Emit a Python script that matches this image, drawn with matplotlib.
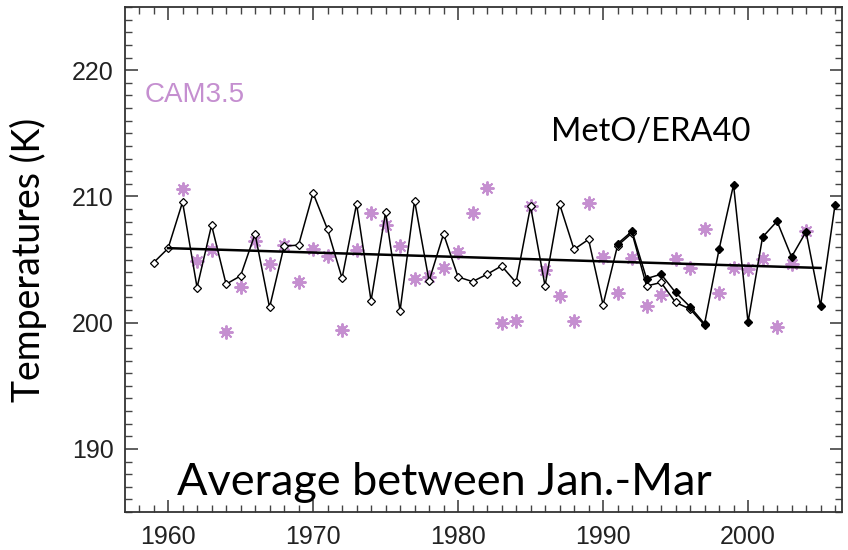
import numpy as np
import matplotlib
matplotlib.use("Agg")
import matplotlib.pyplot as plt
from matplotlib.ticker import MultipleLocator

# MetO/ERA40 reanalysis (open diamonds), 1959-1997
era_years = list(range(1959, 1998))
era_temps = [204.75, 205.88, 209.55, 202.78, 207.72, 203.05, 203.70, 207.03,
             201.20, 206.06, 206.14, 210.26, 207.38, 203.52, 209.40, 201.73,
             208.74, 200.94, 209.66, 203.30, 207.03, 203.62, 203.25, 203.83,
             204.49, 203.18, 209.21, 202.91, 209.40, 205.80, 206.59, 201.42,
             206.10, 207.10, 202.90, 203.18, 201.60, 201.08, 199.80]

# MetO analysis (filled diamonds), 1991-2006
meto_years = list(range(1991, 2007))
meto_temps = [206.25, 207.24, 203.49, 203.83, 202.39, 201.26, 199.90, 205.80,
              210.92, 200.03, 206.77, 208.03, 205.20, 207.20, 201.34, 209.34]

# CAM3.5 model (asterisks), 1961-2004
cam_years = list(range(1961, 2005))
cam_temps = [210.58, 204.88, 205.72, 199.24, 202.83, 206.46, 204.62, 206.11,
             203.18, 205.85, 205.28, 199.42, 205.72, 208.69, 207.72, 206.06,
             203.44, 203.62, 204.30, 205.62, 208.69, 210.66, 199.95, 200.10,
             209.21, 204.15, 202.13, 200.16, 209.47, 205.20, 202.31, 205.14,
             201.34, 202.20, 205.01, 204.35, 207.43, 202.31, 204.30, 204.22,
             205.01, 199.69, 204.62, 207.24]

# linear trend end points
trend_years = [1960, 2005]
trend_temps = [205.9, 204.33]

pink = "#c58fd0"

fig = plt.figure(figsize=(8.48, 5.5), dpi=100)
ax = fig.add_axes([125 / 848, 1 - 512 / 550, (842 - 125) / 848, (512 - 7) / 550])

# asterisk symbols: spiky star over a small square core
ax.plot(cam_years, cam_temps, linestyle="none", marker="s", ms=5.5,
        mew=0, color=pink, alpha=0.85, zorder=2)
ax.plot(cam_years, cam_temps, linestyle="none", marker=(8, 2, 0), ms=10,
        mew=1.4, color=pink, zorder=2)
ax.plot(era_years, era_temps, color="black", lw=1.1, marker="D", ms=4.5,
        mfc="white", mec="black", mew=0.9, zorder=3)
ax.plot(meto_years, meto_temps, color="black", lw=1.1, marker="D", ms=4.5,
        mfc="black", mec="black", zorder=4)
ax.plot(trend_years, trend_temps, color="black", lw=1.8, zorder=3)

ax.set_xlim(1957.03, 2006.48)
ax.set_ylim(185, 225)
ax.xaxis.set_minor_locator(MultipleLocator(1))
ax.yaxis.set_minor_locator(MultipleLocator(1))
ax.set_xticks([1960, 1970, 1980, 1990, 2000])
ax.set_yticks([190, 200, 210, 220])
ax.tick_params(which="both", direction="in", top=True, right=True,
               color="#444444")
ax.tick_params(which="major", length=9, width=1.2)
ax.tick_params(which="minor", length=5, width=1.0)
ax.tick_params(axis="x", which="major", pad=9)
ax.tick_params(axis="y", which="major", pad=8)
for lab in ax.get_xticklabels() + ax.get_yticklabels():
    lab.set_fontfamily("Liberation Sans")
    lab.set_fontsize(18)
    lab.set_color("#222222")
for sp in ax.spines.values():
    sp.set_linewidth(1.3)
    sp.set_color("#333333")

ax.set_ylabel("Temperatures (K)", fontsize=27, fontfamily="Lato", labelpad=18)

fig.text(145 / 848, 1 - 95 / 550, "CAM3.5", color=pink, fontsize=20,
         fontfamily="Liberation Sans", va="center", ha="left")
fig.text(551 / 848, 1 - 132 / 550, "MetO/ERA40", color="black", fontsize=23.5,
         fontfamily="Lato", va="center", ha="left")
fig.text(177 / 848, 1 - 495 / 550, "Average between Jan.-Mar", color="black",
         fontsize=32.5, fontfamily="Lato", va="baseline", ha="left")

fig.savefig("out.png", dpi=100)
